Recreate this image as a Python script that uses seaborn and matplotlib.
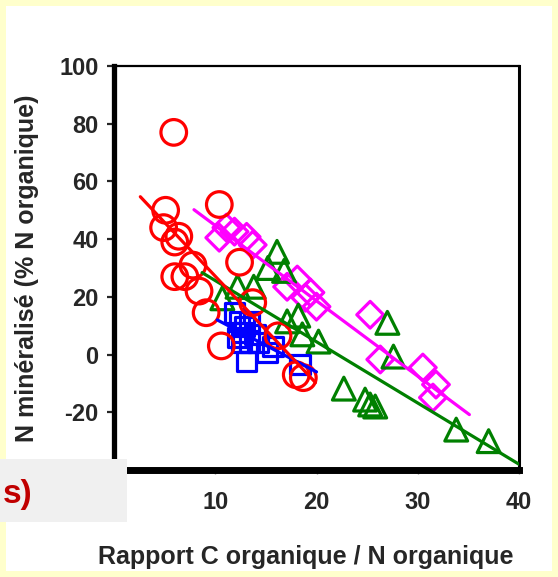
import numpy as np
import pandas as pd
import matplotlib
matplotlib.use("Agg")
import matplotlib.pyplot as plt
from matplotlib.patches import Rectangle
import seaborn as sns

# ---- data ----
red_x = [5.9, 5.1, 4.9, 6.0, 6.4, 6.0, 7.0, 7.8, 8.4, 9.1, 10.4, 12.4, 10.6, 13.7, 16.2, 18.0, 18.7]
red_y = [77, 50, 44, 39, 41, 27, 27, 31, 22, 14.5, 52, 32, 3, 18, 6.5, -7, -8]

blue_x = [11.9, 12.4, 12.9, 13.4, 12.7, 13.9, 12.6, 13.4, 14.2, 13.1, 15.1, 15.7, 18.4, 12.2]
blue_y = [14.5, 11.4, 9.7, 11.4, 7.6, 6.9, 4.2, 4.2, 4.2, -2.4, 0.7, 2.8, -3.5, 5.9]

green_x = [16.1, 15.2, 16.8, 12.2, 13.8, 10.7, 18.2, 17.1, 18.6, 20.2, 27.0, 27.6, 22.7, 24.8, 25.3, 25.8, 33.8, 37.0]
green_y = [35.6, 30, 29, 23.5, 23.5, 19.5, 13.5, 11.5, 7, 4.5, 11, -0.7, -11.8, -15.6, -17.3, -18, -26, -30]

mag_x = [10.4, 11.1, 11.9, 13.1, 13.7, 17.1, 18.1, 18.9, 19.4, 20.0, 25.3, 26.3, 30.5, 31.8, 31.5]
mag_y = [40.5, 44, 42.6, 40.8, 38, 23.5, 26, 19.7, 21.5, 16.6, 13.8, -1.7, -4.5, -10.4, -14.9]

red_line_x, red_line_y = [2.6, 19.9], [54.7, -9.7]
blue_line_x, blue_line_y = [10.2, 20.0], [12.0, -6.0]
green_line_x, green_line_y = [8.7, 40.0], [28.4, -38.0]
mag_line_x, mag_line_y = [7.9, 35.1], [50.2, -20.8]

x_ticks = [0, 10, 20, 30, 40]
y_ticks = [-40, -20, 0, 20, 40, 60, 80, 100]

RED, BLUE, GREEN, MAG = "#FF0000", "#0000FF", "#008000", "#FF00FF"

sns.set_style("white")
plt.rcParams["font.family"] = ["Liberation Sans", "DejaVu Sans"]
plt.rcParams["font.weight"] = "bold"

W, H = 558, 577
fig = plt.figure(figsize=(W / 100, H / 100), dpi=100, facecolor="#FFFFCC")
fig.add_artist(Rectangle((6 / W, 6 / H), (W - 12) / W, (H - 12) / H,
                         transform=fig.transFigure, facecolor="white",
                         edgecolor="none", zorder=-5))

ax = fig.add_axes([114 / W, 1 - 470 / H, (519 - 114) / W, (470 - 66) / H])
ax.set_facecolor("white")

lw = 2.3
series = [
    (mag_x, mag_y, "D", 185, MAG, mag_line_x, mag_line_y),
    (green_x, green_y, "^", 270, GREEN, green_line_x, green_line_y),
    (blue_x, blue_y, "s", 200, BLUE, blue_line_x, blue_line_y),
    (red_x, red_y, "o", 340, RED, red_line_x, red_line_y),
]
for xs, ys, mk, s, c, lx, ly in series:
    df = pd.DataFrame({"x": xs, "y": ys})
    sns.scatterplot(data=df, x="x", y="y", marker=mk, s=s, color=c,
                    facecolor="none", edgecolor=c, linewidth=lw, ax=ax,
                    legend=False, zorder=3)
for xs, ys, mk, s, c, lx, ly in series:
    ldf = pd.DataFrame({"x": lx, "y": ly})
    sns.lineplot(data=ldf, x="x", y="y", color=c, linewidth=2.3, ax=ax,
                 legend=False, zorder=4)

ax.set_xlim(0, 40)
ax.set_ylim(-40, 100)
ax.set_xticks(x_ticks)
ax.set_yticks(y_ticks)
ax.set_xticklabels([str(v) for v in x_ticks], fontsize=17, fontweight="bold")
ax.set_yticklabels([str(v) for v in y_ticks], fontsize=17, fontweight="bold")
ax.tick_params(axis="y", direction="out", length=5, width=1.6, pad=6, left=True)
ax.tick_params(axis="x", direction="out", length=3, width=1.0, pad=12,
               bottom=True, color="#888888")

ax.set_xlabel("Rapport C organique / N organique", fontsize=18,
              fontweight="bold", va="center", ha="center")
ax.xaxis.set_label_coords((306 - 114) / 405, -(557 - 470) / 404)
ax.set_ylabel("N minéralisé (% N organique)", fontsize=18,
              fontweight="bold", va="center", ha="center")
ax.yaxis.set_label_coords(-(114 - 27) / 405, 0.5)

for side, w in [("left", 3.8), ("bottom", 5.0), ("top", 1.6), ("right", 2.2)]:
    ax.spines[side].set_visible(True)
    ax.spines[side].set_color("black")
    ax.spines[side].set_linewidth(w)

# grey overlay box with partial text, as in the reference
fig.add_artist(Rectangle((0, 1 - 522 / H), 127 / W, 63 / H,
                         transform=fig.transFigure, facecolor="#F0F0F0",
                         edgecolor="none", zorder=10))
fig.text(3 / W, 1 - 494 / H, "s)", fontsize=24, fontweight="bold",
         color="#C00000", va="center", ha="left", zorder=11)

fig.savefig("out.png", dpi=100, facecolor=fig.get_facecolor())
